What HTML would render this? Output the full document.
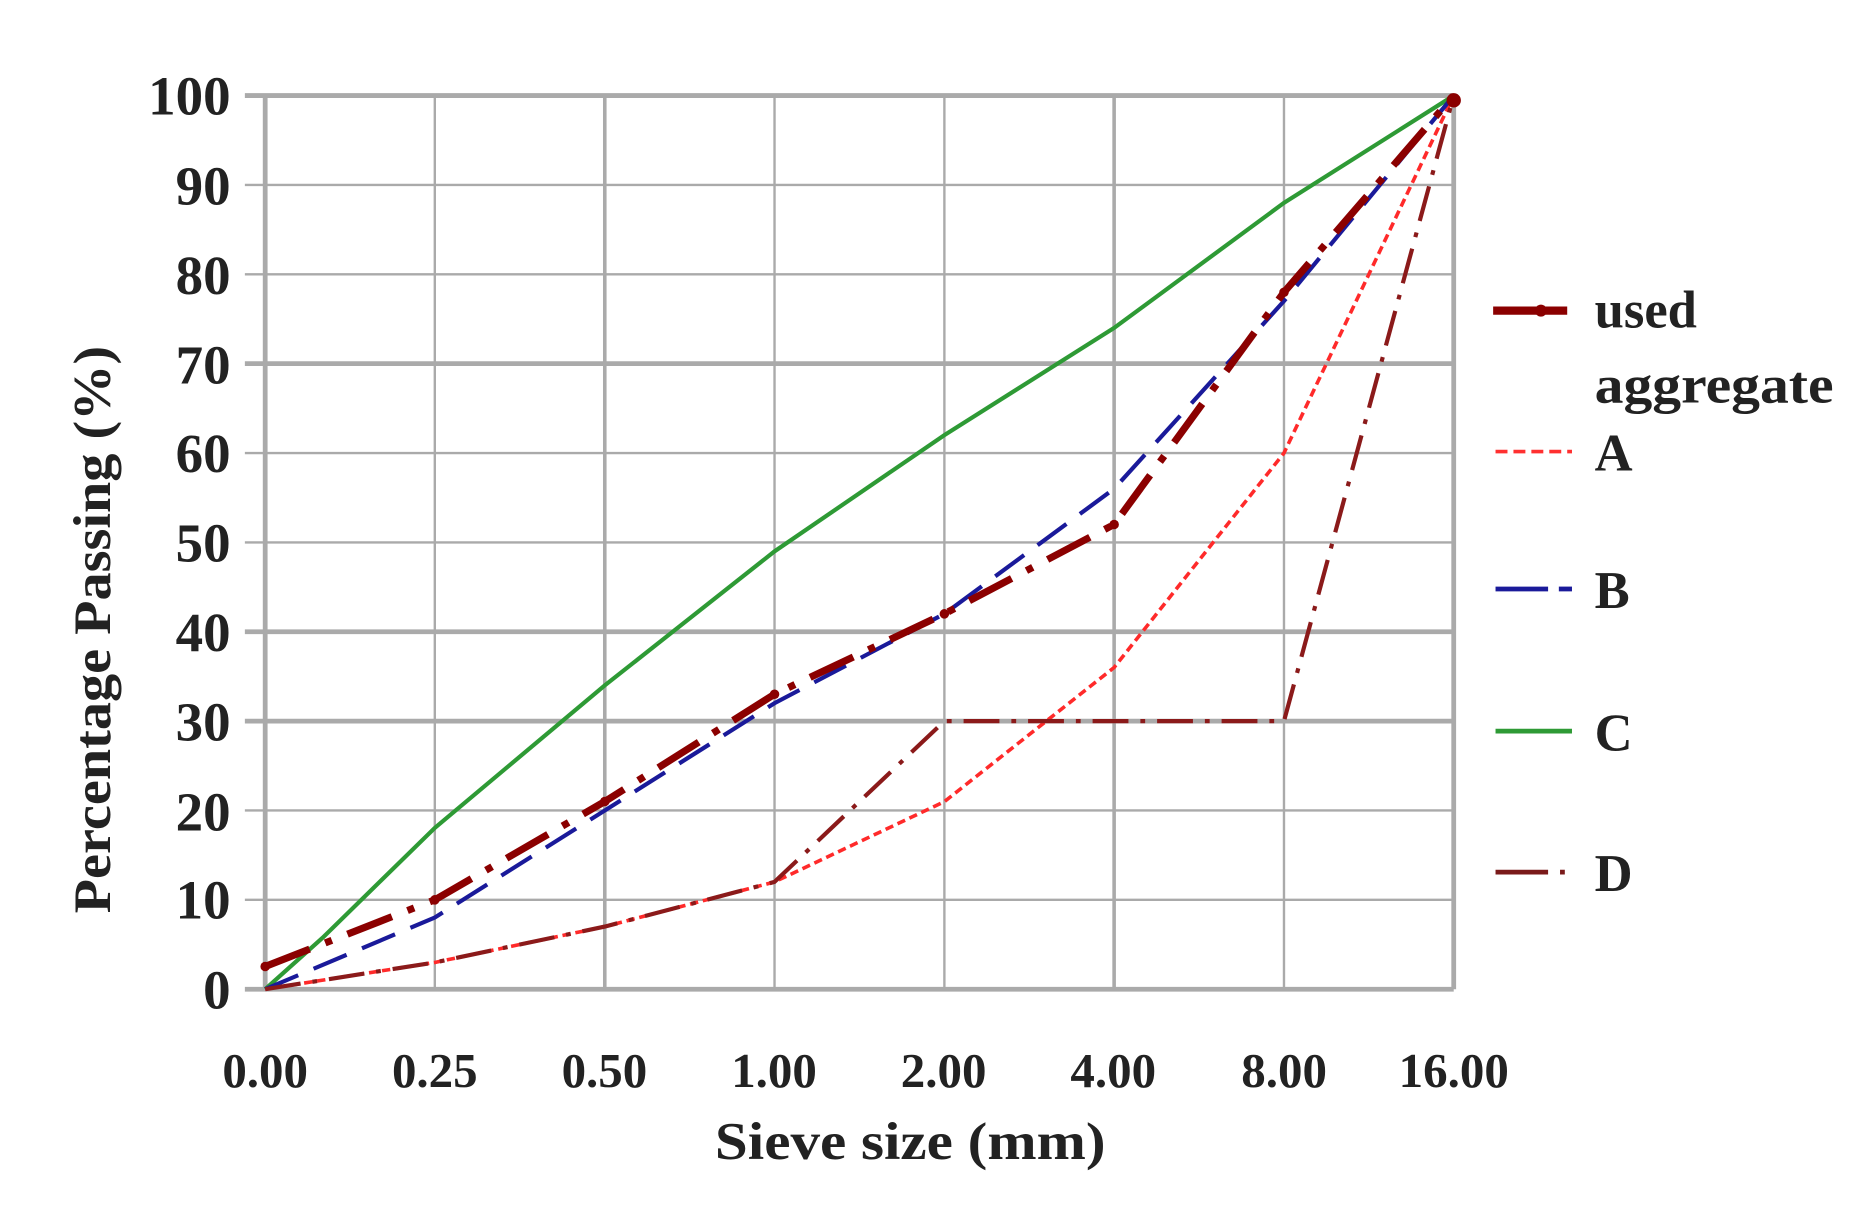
<!DOCTYPE html>
<html><head><style>html,body{margin:0;padding:0;background:#fff}svg{display:block}</style></head>
<body>
<svg width="1873" height="1215" viewBox="0 0 1568 1017" preserveAspectRatio="none" xmlns="http://www.w3.org/2000/svg" font-family="Liberation Serif, serif" font-weight="bold">
<rect width="1568" height="1017" fill="#fff"/>
<g stroke="#aaa" stroke-width="2">
<line x1="205" y1="80" x2="1217" y2="80" stroke-width="4"/>
<line x1="205" y1="154.8" x2="1217" y2="154.8"/>
<line x1="205" y1="229.6" x2="1217" y2="229.6"/>
<line x1="205" y1="304.4" x2="1217" y2="304.4" stroke-width="4"/>
<line x1="205" y1="379.2" x2="1217" y2="379.2"/>
<line x1="205" y1="454" x2="1217" y2="454"/>
<line x1="205" y1="528.8" x2="1217" y2="528.8" stroke-width="4"/>
<line x1="205" y1="603.6" x2="1217" y2="603.6" stroke-width="4"/>
<line x1="205" y1="678.4" x2="1217" y2="678.4"/>
<line x1="205" y1="753.2" x2="1217" y2="753.2"/>
<line x1="205" y1="828" x2="1217" y2="828" stroke-width="4"/>
<line x1="222" y1="80" x2="222" y2="828" stroke-width="4"/>
<line x1="364" y1="80" x2="364" y2="828"/>
<line x1="506.3" y1="80" x2="506.3" y2="828" stroke-width="3"/>
<line x1="648.4" y1="80" x2="648.4" y2="828"/>
<line x1="790.6" y1="80" x2="790.6" y2="828"/>
<line x1="932.7" y1="80" x2="932.7" y2="828" stroke-width="3"/>
<line x1="1074.9" y1="80" x2="1074.9" y2="828"/>
<line x1="1217" y1="80" x2="1217" y2="828" stroke-width="4"/>
</g>
<polyline fill="none" stroke="#2e9a35" stroke-width="3.5" points="222,828 270,785 364,693 506.3,573.7 648.4,461.5 790.6,364.2 932.7,274.5 1074.9,169.8 1217,80"/>
<polyline fill="none" stroke="#ff2a2a" stroke-width="3" stroke-dasharray="7,4" points="222,828 364,805.6 506.3,775.6 648.4,738.2 790.6,671 932.7,558.7 1074.9,379.2 1217,80"/>
<polyline fill="none" stroke="#1a1a9a" stroke-width="3.5" stroke-dasharray="30,14" points="222,828 364,768 506.3,678.4 648.4,588.6 790.6,513.8 932.7,409.1 1074.9,252 1217,80"/>
<polyline fill="none" stroke="#8b1a1a" stroke-width="3.5" stroke-dasharray="30,10,4,10" points="222,828 364,805.6 506.3,775.6 648.4,738.2 790.6,603.6 932.7,603.6 1074.9,603.6 1217,80"/>
<polyline fill="none" stroke="#8b0000" stroke-width="6" stroke-dasharray="40,14,6,14" points="222,809 364,753.2 506.3,670.9 648.4,581.1 790.6,513.8 932.7,439 1074.9,244.6 1217,80"/>
<g fill="#8b0000"><circle cx="222" cy="809" r="4"/><circle cx="364" cy="753.2" r="4"/><circle cx="506.3" cy="670.9" r="4"/><circle cx="648.4" cy="581.1" r="4"/><circle cx="790.6" cy="513.8" r="4"/><circle cx="932.7" cy="439" r="4"/><circle cx="1074.9" cy="244.6" r="4"/><circle cx="1217" cy="84" r="6"/></g>
<g font-size="46" fill="#222" text-anchor="end">
<text x="193" y="96">100</text><text x="193" y="171">90</text><text x="193" y="246">80</text><text x="193" y="321">70</text><text x="193" y="395">60</text><text x="193" y="470">50</text><text x="193" y="545">40</text><text x="193" y="620">30</text><text x="193" y="695">20</text><text x="193" y="769">10</text><text x="193" y="844">0</text>
</g>
<g font-size="41" fill="#222" text-anchor="middle">
<text x="222" y="910">0.00</text><text x="364" y="910">0.25</text><text x="506" y="910">0.50</text><text x="648" y="910">1.00</text><text x="790" y="910">2.00</text><text x="932" y="910">4.00</text><text x="1075" y="910">8.00</text><text x="1217" y="910">16.00</text>
<text x="762" y="970" font-size="44" textLength="327" lengthAdjust="spacingAndGlyphs">Sieve size (mm)</text>
<text transform="translate(92,527) rotate(-90)" font-size="44" textLength="475" lengthAdjust="spacingAndGlyphs">Percentage Passing (%)</text>
</g>
<g>
<line x1="1250" y1="260" x2="1312" y2="260" stroke="#8b0000" stroke-width="7"/><circle cx="1290" cy="260" r="5" fill="#8b0000"/>
<line x1="1252" y1="378" x2="1316" y2="378" stroke="#ff3030" stroke-width="3" stroke-dasharray="10,5"/>
<line x1="1252" y1="493" x2="1296" y2="493" stroke="#1a1a9a" stroke-width="4"/><line x1="1305" y1="493" x2="1316" y2="493" stroke="#1a1a9a" stroke-width="4"/>
<line x1="1252" y1="612" x2="1316" y2="612" stroke="#2e9a35" stroke-width="4"/>
<line x1="1252" y1="730" x2="1296" y2="730" stroke="#7a1a1a" stroke-width="4"/><line x1="1306" y1="730" x2="1310" y2="730" stroke="#7a1a1a" stroke-width="4"/>
</g>
<g font-size="44" fill="#222">
<text x="1335" y="274">used</text><text x="1335" y="337" textLength="200" lengthAdjust="spacingAndGlyphs">aggregate</text>
<text x="1335" y="394">A</text><text x="1335" y="509">B</text><text x="1335" y="628">C</text><text x="1335" y="746">D</text>
</g>
</svg>
</body></html>
